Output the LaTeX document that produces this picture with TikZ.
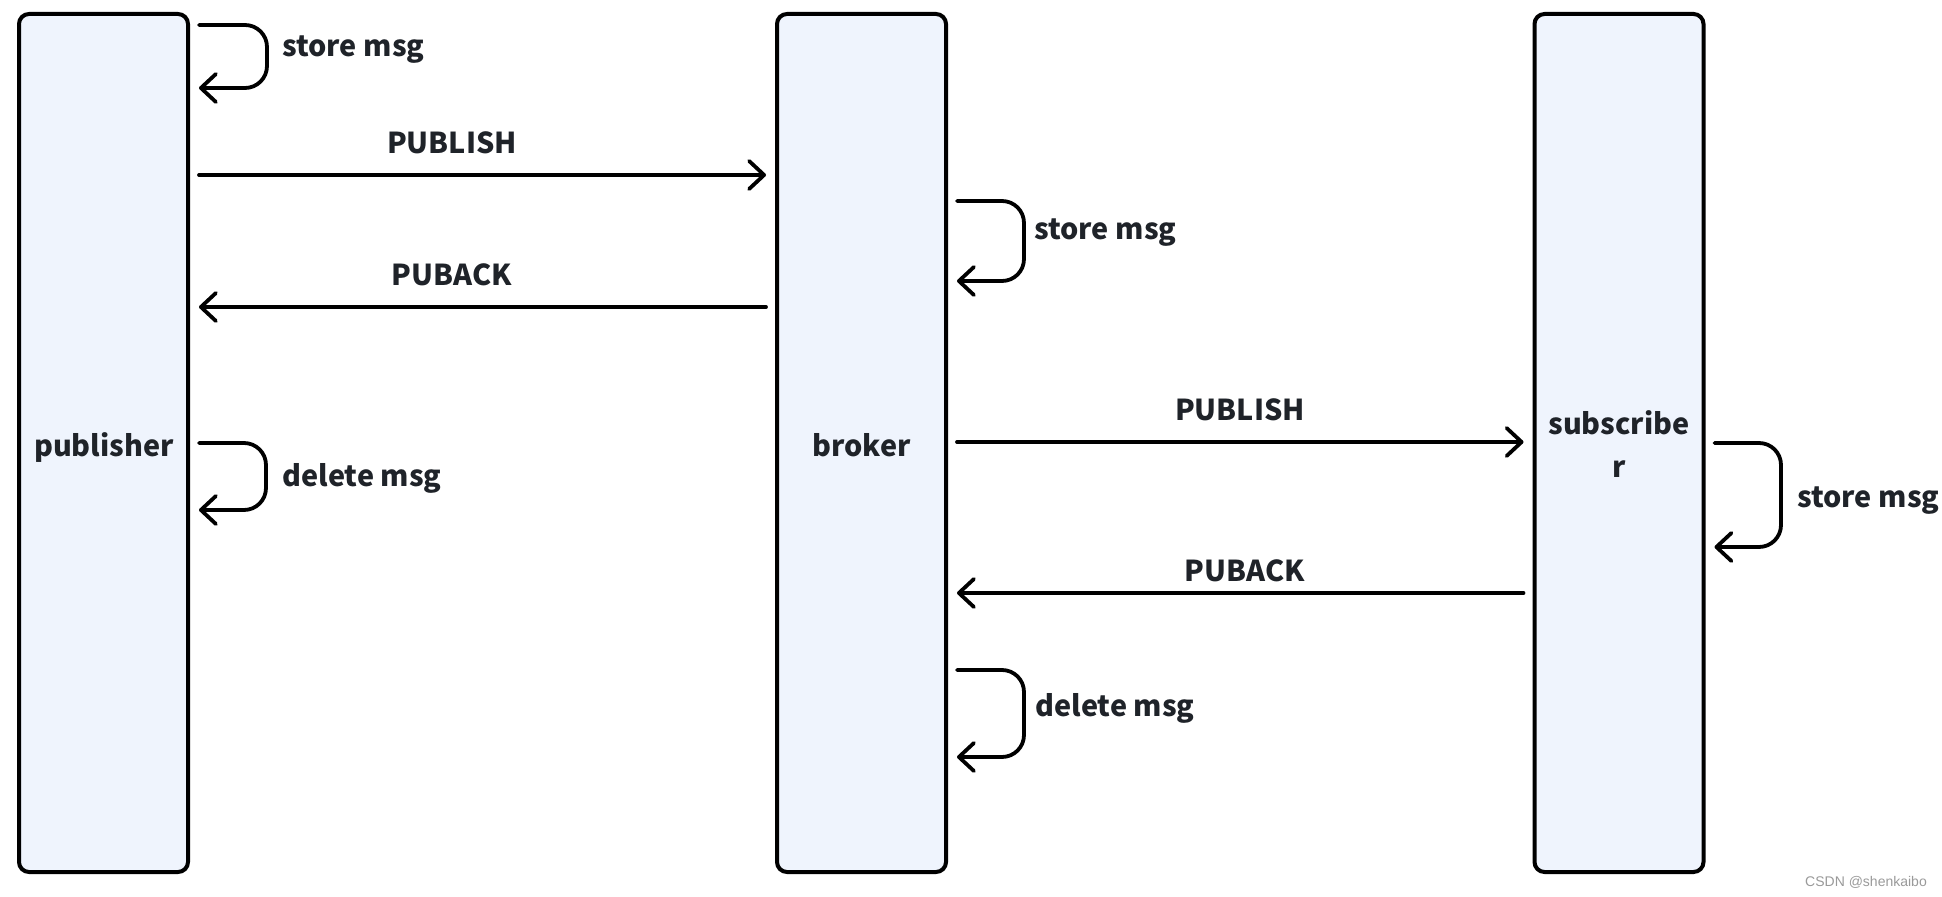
\documentclass[tikz,border=0pt]{standalone}
\usepackage{fontspec}
\newfontfamily\lab{Noto Sans CJK SC}
\newfontfamily\wm{Liberation Sans}
\usetikzlibrary{arrows.meta,calc}
\definecolor{boxfill}{HTML}{EFF4FD}
\definecolor{txt}{HTML}{1F2329}
\definecolor{wmgray}{HTML}{9A9A9A}
\begin{document}
\begin{tikzpicture}[x=0.5pt,y=-0.5pt,
  lane/.style={draw=black,line width=2pt,fill=boxfill,rounded corners=5pt,
    minimum width=84.5pt,minimum height=429pt,inner sep=0pt},
  lanetext/.style={font=\lab\bfseries\fontsize{14.4}{21.5}\selectfont,text=txt,align=center,inner sep=0pt},
  msg/.style={line width=1.9pt,line cap=round,line join=round,
    -{Straight Barb[length=7.5pt,width=14pt,round]}},
  loopmsg/.style={msg,rounded corners=11pt},
  lbl/.style={font=\lab\bfseries\fontsize{14.4}{18}\selectfont,text=txt,inner sep=0pt}]
\useasboundingbox (0,0) rectangle (1942,897);
\fill[white] (0,0) rectangle (1942,897);
% lanes
\node[lane] (pub) at (103.5,443) {};
\node[lane] (bro) at (861.5,443) {};
\node[lane] (sub) at (1619,443) {};
\node[lanetext] (pubt) at (104,448) {publisher};
\node[lanetext] (brot) at (861.5,445) {broker};
\node[lanetext] (subt) at (1619,444) {subscribe\\r};
% gap points just outside the lanes
\path (pub.east) ++(9,0) coordinate (pe);
\path (bro.west) ++(-9,0) coordinate (bw);
\path (bro.east) ++(9,0) coordinate (be);
\path (sub.west) ++(-9,0) coordinate (sw);
\path (sub.east) ++(9,0) coordinate (se);
% publisher store msg
\draw[loopmsg] (pe |- 0,25) -- (267,25) -- (267,88) -- (pe |- 0,88);
\node[lbl,anchor=west] (l1) at (282,50) {store msg};
% PUBLISH pub -> broker
\draw[msg] (pe |- 0,175) -- (bw |- 0,175);
\node[lbl] (l2) at (452,143) {PUBLISH};
% PUBACK broker -> pub
\draw[msg] (bw |- 0,307) -- (pe |- 0,307);
\node[lbl] (l3) at (452,275) {PUBACK};
% broker store msg
\draw[loopmsg] (be |- 0,201) -- (1024,201) -- (1024,281) -- (be |- 0,281);
\node[lbl,anchor=west] (l4) at (1034,233) {store msg};
% publisher delete msg
\draw[loopmsg] (pe |- 0,443) -- (266,443) -- (266,510) -- (pe |- 0,510);
\node[lbl,anchor=west] (l5) at (282,478) {delete msg};
% PUBLISH broker -> subscriber
\draw[msg] (be |- 0,442) -- (sw |- 0,442);
\node[lbl] (l6) at (1240,410) {PUBLISH};
% subscriber store msg
\draw[loopmsg] (se |- 0,443) -- (1781,443) -- (1781,547) -- (se |- 0,547);
\node[lbl,anchor=west] (l7) at (1797,501) {store msg};
% PUBACK subscriber -> broker
\draw[msg] (sw |- 0,593) -- (be |- 0,593);
\node[lbl] (l8) at (1245,571) {PUBACK};
% broker delete msg
\draw[loopmsg] (be |- 0,670) -- (1024,670) -- (1024,757) -- (be |- 0,757);
\node[lbl,anchor=west] (l9) at (1035,708) {delete msg};
% watermark
\node[font=\wm\fontsize{7}{8}\selectfont,text=wmgray,inner sep=0pt] (wm) at (1866,882) {CSDN @shenkaibo};
\end{tikzpicture}
\end{document}
